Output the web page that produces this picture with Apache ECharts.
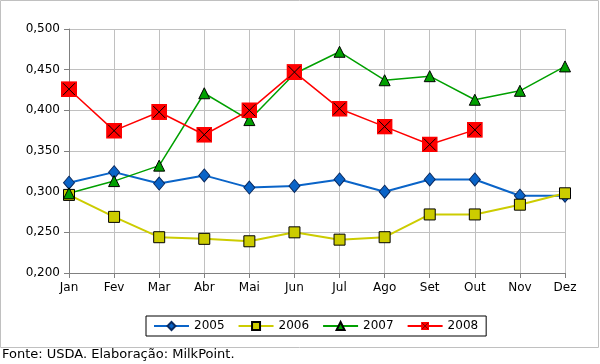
<!DOCTYPE html>
<html><head><meta charset="utf-8">
<script src="https://cdn.jsdelivr.net/npm/echarts@6/dist/echarts.min.js"></script>
<style>html,body{margin:0;padding:0;background:#fff}#c{width:600px;height:364px}</style>
</head><body><div id="c"></div>
<script>
var months = ['Jan','Fev','Mar','Abr','Mai','Jun','Jul','Ago','Set','Out','Nov','Dez'];
var s2005 = [0.311,0.324,0.310,0.320,0.305,0.307,0.315,0.300,0.315,0.315,0.295,0.295];
var s2006 = [0.296,0.269,0.244,0.242,0.239,0.250,0.241,0.244,0.272,0.272,0.284,0.298];
var s2007 = [0.298,0.313,0.332,0.421,0.388,0.445,0.472,0.437,0.442,0.413,0.424,0.454];
var s2008 = [0.426,0.375,0.398,0.370,0.400,0.447,0.402,0.380,0.358,0.376];
var yTicks = {min:0.2, max:0.5, step:0.05};

var FONT = 'DejaVu Sans';
var xSvg = '<svg xmlns="http://www.w3.org/2000/svg" width="16" height="16"><rect x="0" y="0" width="16" height="16" fill="#ff0000"/><path d="M2 2L14 14M14 2L2 14" stroke="#000" stroke-width="1"/></svg>';
var xSym = 'image://data:image/svg+xml;utf8,' + encodeURIComponent(xSvg);

var chart = echarts.init(document.getElementById('c'), null, {renderer:'canvas'});
function mk(name, data, color, symbol, size, width, borderColor){
  return {name:name, type:'line', data:data, symbol:symbol, symbolSize:size,
    showAllSymbol:true, animation:false,
    lineStyle:{color:color, width:width},
    itemStyle:{color:color, borderColor:borderColor, borderWidth:1, opacity:1},
    emphasis:{disabled:true}};
}
chart.setOption({
  animation:false,
  textStyle:{fontFamily:FONT},
  grid:{left:69, right:35, top:29, bottom:91, containLabel:false},
  graphic:[
    {type:'rect', shape:{x:0.5, y:0.5, width:598, height:347}, style:{fill:'none', stroke:'#c0c0c0', lineWidth:1}, z:-1},
    {type:'text', left:2, top:348, style:{text:'Fonte: USDA. Elaboração: MilkPoint.', font:'13px "DejaVu Sans"', fill:'#000'}}
  ],
  legend:{
    left:146, top:316,
    padding:[4,8,4,7], itemGap:13, itemWidth:35, itemHeight:10,
    borderColor:'#000', borderWidth:1,
    textStyle:{fontFamily:FONT, fontSize:12, color:'#000'},
    data:['2005','2006','2007','2008']
  },
  xAxis:{type:'category', data:months, boundaryGap:false,
    axisLine:{lineStyle:{color:'#808080', width:1}},
    axisTick:{show:true, length:5, lineStyle:{color:'#808080'}, alignWithLabel:true},
    axisLabel:{color:'#000', fontSize:12, fontFamily:FONT, margin:9},
    splitLine:{show:true, lineStyle:{color:'#c0c0c0', width:1}}},
  yAxis:{type:'value', min:yTicks.min, max:yTicks.max, interval:yTicks.step,
    axisLine:{show:true, lineStyle:{color:'#808080', width:1}},
    axisTick:{show:true, length:5, lineStyle:{color:'#808080'}},
    axisLabel:{color:'#000', fontSize:12, fontFamily:FONT, margin:9,
      formatter:function(v){return v.toFixed(3).replace('.',',');}},
    splitLine:{show:true, lineStyle:{color:'#c0c0c0', width:1}}},
  series:[
    mk('2005', s2005, '#0a64c8', 'diamond', [11,13], 2, '#0a2a60'),
    mk('2006', s2006, '#cccc00', 'rect', 11, 2, '#000'),
    mk('2007', s2007, '#00a000', 'triangle', 11, 1.5, '#000'),
    mk('2008', s2008, '#ff0000', xSym, 16, 1.5, '#000')
  ]
});
</script></body></html>
